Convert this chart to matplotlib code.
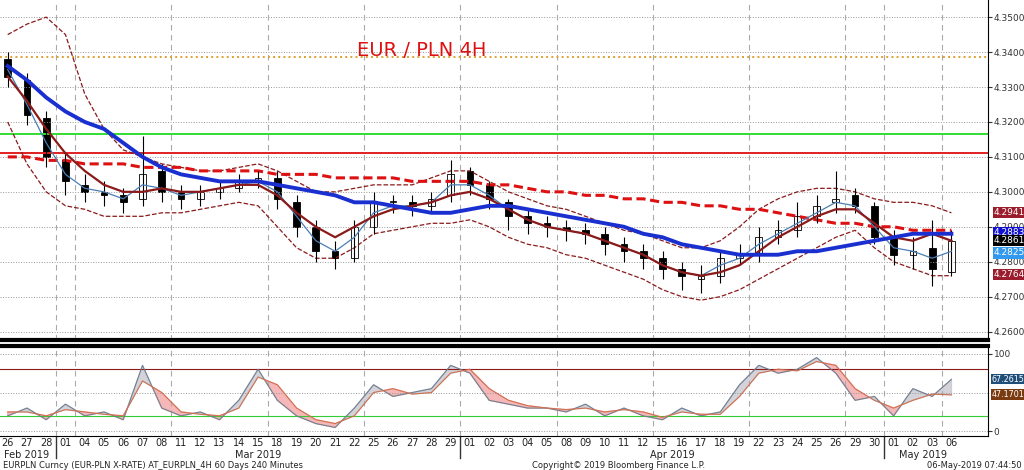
import matplotlib
matplotlib.use("Agg")
import matplotlib.pyplot as plt
import numpy as np

days = ["26","27","28","01","04","05","06","07","08","11","12","13","14","15","18","19","20","21","22",
        "25","26","27","28","29","01","02","03","04","05","08","09","10","11","12","15","16","17","18","19",
        "22","23","24","25","26","29","30","01","02","03","06"]
months = [("Feb 2019", 0, 2), ("Mar 2019", 3, 23), ("Apr 2019", 24, 45), ("May 2019", 46, 49)]
close = [4.333,4.322,4.310,4.303,4.300,4.299,4.297,4.305,4.300,4.298,4.300,4.301,4.303,4.304,4.298,4.290,4.283,4.281,4.290,
         4.297,4.297,4.296,4.298,4.305,4.302,4.298,4.293,4.291,4.290,4.289,4.288,4.285,4.283,4.281,4.278,4.276,4.276,4.281,4.282,
         4.287,4.289,4.293,4.296,4.298,4.296,4.287,4.282,4.283,4.278,4.286]
openp = [4.338,4.332,4.321,4.309,4.302,4.300,4.299,4.298,4.306,4.300,4.298,4.300,4.301,4.303,4.304,4.297,4.290,4.283,4.281,
         4.290,4.297,4.297,4.296,4.299,4.306,4.302,4.297,4.293,4.291,4.290,4.289,4.288,4.285,4.283,4.281,4.278,4.275,4.276,4.281,
         4.282,4.287,4.289,4.293,4.297,4.299,4.296,4.287,4.282,4.284,4.277]
high = [4.340,4.334,4.323,4.311,4.305,4.303,4.301,4.316,4.308,4.302,4.302,4.303,4.305,4.306,4.306,4.299,4.292,4.286,4.292,
        4.300,4.299,4.299,4.300,4.309,4.307,4.303,4.298,4.295,4.293,4.292,4.291,4.290,4.287,4.285,4.283,4.280,4.279,4.283,4.285,
        4.290,4.292,4.297,4.299,4.306,4.301,4.297,4.289,4.287,4.292,4.289]
low = [4.330,4.319,4.307,4.299,4.297,4.296,4.294,4.296,4.297,4.295,4.296,4.298,4.300,4.301,4.295,4.287,4.280,4.278,4.280,
       4.288,4.294,4.293,4.294,4.297,4.299,4.295,4.289,4.288,4.287,4.286,4.285,4.282,4.280,4.278,4.275,4.272,4.271,4.274,4.279,
       4.280,4.285,4.287,4.291,4.294,4.294,4.285,4.279,4.278,4.273,4.276]
ma_fast = [4.335,4.325,4.314,4.305,4.301,4.300,4.298,4.302,4.301,4.299,4.300,4.301,4.302,4.303,4.300,4.293,4.286,4.283,4.287,
           4.294,4.296,4.296,4.297,4.302,4.302,4.299,4.295,4.292,4.290,4.289,4.288,4.286,4.284,4.282,4.279,4.277,4.276,4.279,4.281,
           4.285,4.288,4.291,4.294,4.297,4.296,4.290,4.284,4.283,4.281,4.283]
ma_mid = [4.333,4.326,4.318,4.311,4.306,4.302,4.300,4.300,4.301,4.300,4.300,4.301,4.302,4.302,4.299,4.294,4.290,4.287,4.290,
          4.293,4.295,4.296,4.297,4.299,4.300,4.298,4.295,4.292,4.290,4.289,4.288,4.286,4.284,4.282,4.279,4.277,4.276,4.277,4.279,
          4.283,4.287,4.290,4.293,4.295,4.295,4.291,4.287,4.286,4.288,4.286]
ma_slow = [4.336,4.332,4.327,4.323,4.320,4.318,4.314,4.310,4.307,4.305,4.304,4.303,4.303,4.303,4.302,4.301,4.300,4.299,4.297,
           4.297,4.296,4.295,4.294,4.294,4.295,4.296,4.296,4.295,4.294,4.293,4.292,4.291,4.290,4.288,4.287,4.285,4.284,4.283,4.282,
           4.282,4.282,4.283,4.283,4.284,4.285,4.286,4.287,4.288,4.288,4.288]
ma_200 = [4.310,4.310,4.309,4.309,4.308,4.308,4.308,4.307,4.307,4.307,4.306,4.306,4.306,4.306,4.305,4.305,4.305,4.304,4.304,
          4.304,4.304,4.303,4.303,4.303,4.303,4.302,4.302,4.301,4.300,4.300,4.299,4.299,4.298,4.298,4.297,4.297,4.296,4.296,4.295,
          4.295,4.294,4.293,4.292,4.291,4.291,4.290,4.290,4.289,4.289,4.289]
band_up = [4.345,4.348,4.350,4.345,4.328,4.318,4.312,4.310,4.308,4.307,4.306,4.306,4.307,4.308,4.306,4.303,4.300,4.300,4.301,
           4.302,4.302,4.302,4.304,4.306,4.306,4.303,4.300,4.298,4.296,4.295,4.293,4.291,4.289,4.288,4.286,4.284,4.284,4.286,4.290,
           4.295,4.298,4.300,4.301,4.301,4.300,4.298,4.297,4.297,4.296,4.294]
band_lo = [4.320,4.308,4.300,4.296,4.295,4.293,4.293,4.293,4.294,4.294,4.295,4.296,4.297,4.296,4.290,4.284,4.281,4.281,4.284,
           4.288,4.289,4.290,4.291,4.291,4.292,4.290,4.287,4.285,4.284,4.282,4.281,4.279,4.277,4.275,4.272,4.270,4.269,4.270,4.272,
           4.275,4.278,4.281,4.284,4.287,4.289,4.284,4.280,4.278,4.276,4.276]
stoch_k = [20,30,15,35,20,25,15,85,30,20,25,15,40,80,40,20,10,5,30,60,45,50,55,85,75,40,35,30,30,25,35,20,30,20,15,30,20,25,60,
           85,75,80,95,75,40,45,20,55,45,67]
stoch_d = [25,25,20,28,25,22,20,65,50,25,22,20,30,70,60,30,15,10,20,50,55,48,50,75,80,55,40,33,30,28,30,25,28,25,18,25,22,22,45,
           75,80,78,90,85,55,40,30,40,48,47]
h_levels = [(4.3385, "#e0a030", ":"), (4.3165, "#33dd33", "-"), (4.3110, "#e02020", "-")]
price_tags = [(4.2941, "4.2941", "#9b1c2c"), (4.2883, "4.2883", "#1010d0"),
              (4.2861, "4.2861", "black"), (4.2825, "4.2825", "#3399ee"),
              (4.2764, "4.2764", "#9b1c2c")]
stoch_tags = [(67.2615, "67.2615", "#1f4e79"), (47.1701, "47.1701", "#7a3b10")]

x = np.arange(len(days))
fig = plt.figure(figsize=(10.24, 4.70), dpi=100)
W = 988 / 1024
ax = fig.add_axes([0, 1 - 340/470, W, 340/470])
ax2 = fig.add_axes([0, 1 - 436/470, W, 90/470])
xl = (-0.4, 50.9)
for a in (ax, ax2):
    a.set_xlim(*xl)
    a.set_facecolor("white")
    for s in ("top", "left"):
        a.spines[s].set_visible(False)
    a.yaxis.tick_right()
    a.tick_params(axis="y", labelsize=6.5, length=3, colors="#333", pad=1)
    a.tick_params(axis="x", length=0, labelbottom=False)
    a.set_xticks([])
ax.spines["bottom"].set_linewidth(3)
ax2.spines["top"].set_visible(True)
ax2.spines["top"].set_linewidth(3)

ax.set_ylim(4.2576, 4.3549)
ticks = np.arange(4.26, 4.351, 0.01)
ax.set_yticks(ticks)
ax.set_yticklabels([f"{v:.4f}" for v in ticks])
for v in ticks:
    ax.axhline(v, color="#999", ls=":", lw=0.7)
for i in range(1, len(x)):
    if int(days[i]) < int(days[i-1]) or int(days[i]) - int(days[i-1]) > 1:
        for a in (ax, ax2):
            a.axvline(i - 0.5, color="#aaa", ls=(0, (5, 4)), lw=0.8)
for lv, c, ls in h_levels:
    ax.axhline(lv, color=c, ls=ls, lw=1.4)

ax.plot(x, band_up, color="#8b1a1a", ls="--", lw=0.9)
ax.plot(x, band_lo, color="#8b1a1a", ls="--", lw=0.9)
ax.plot(x, ma_200, color="#dd1111", ls=(0, (3, 1.5)), lw=2.2)
for i in x:
    ax.vlines(i, low[i], high[i], color="black", lw=0.8)
    b0, b1 = sorted([openp[i], close[i]])
    ax.bar(i, max(b1 - b0, 0.0003), bottom=b0, width=0.35,
           color="white" if close[i] >= openp[i] else "black", edgecolor="black", lw=0.6)
ax.plot(x, ma_fast, color="#4a7fb5", lw=0.9)
ax.plot(x, ma_mid, color="#8b1a1a", lw=1.6)
ax.plot(x, ma_slow, color="#1a2fd0", lw=2.8)
ax.text(21.5, 4.3405, "EUR / PLN 4H", color="#dd1111", fontsize=14, ha="center", va="center")
for v, t, bg in price_tags:
    ax.text(1.006, (v - 4.2576) / (4.3549 - 4.2576), t, transform=ax.transAxes, fontsize=6.5, color="white",
            va="center", ha="left", bbox=dict(boxstyle="square,pad=0.12", fc=bg, ec="none"))

ax2.set_ylim(-6, 110)
ax2.set_yticks([0, 100])
for v in (0, 50, 100):
    ax2.axhline(v, color="#999", ls=":", lw=0.7)
ax2.axhline(80, color="#8b1a1a", lw=0.8)
ax2.axhline(20, color="#33cc33", lw=0.8)
k = np.array(stoch_k, float); d = np.array(stoch_d, float)
ax2.fill_between(x, k, d, where=k >= d, color="#c8c8d0", alpha=0.8, interpolate=True)
ax2.fill_between(x, k, d, where=k < d, color="#f4b0b0", alpha=0.9, interpolate=True)
ax2.plot(x, k, color="#708090", lw=0.8)
ax2.plot(x, d, color="#d07050", lw=0.8)
for v, t, bg in stoch_tags:
    ax2.text(1.004, (v + 6) / 116, t, transform=ax2.transAxes, fontsize=5.8, color="white",
             va="center", ha="left", bbox=dict(boxstyle="square,pad=0.1", fc=bg, ec="none"))

for i, dlab in enumerate(days):
    fig.text(ax2.transData.transform((i, 0))[0] / 1024, 1 - 443/470, dlab, fontsize=7, ha="center", va="center", color="#222")
for name, i0, i1 in months:
    xm = ax2.transData.transform(((i0 + i1) / 2, 0))[0] / 1024
    fig.text(xm, 1 - 455/470, name, fontsize=7, ha="center", va="center", color="#222")
    if i0 > 0:
        xb = ax2.transData.transform((i0 - 0.5, 0))[0] / 1024
        fig.add_artist(plt.Line2D([xb, xb], [1 - 458/470, 1 - 437/470], color="#333", lw=1))
fig.text(0.003, 1 - 465/470, "EURPLN Curncy (EUR-PLN X-RATE) AT_EURPLN_4H 60 Days 240 Minutes", fontsize=6, va="center", color="#222")
fig.text(0.52, 1 - 465/470, "Copyright\u00a9 2019 Bloomberg Finance L.P.", fontsize=6, va="center", color="#222")
fig.text(0.998, 1 - 465/470, "06-May-2019 07:44:50", fontsize=6, va="center", ha="right", color="#222")
fig.savefig("out.png", dpi=100, facecolor="white")
